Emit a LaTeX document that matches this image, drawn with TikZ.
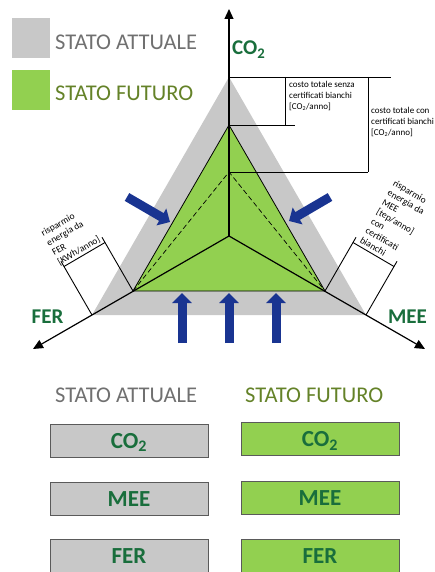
\documentclass[tikz,border=0pt]{standalone}
\usepackage{fontspec}
\setmainfont{Carlito}
\usetikzlibrary{arrows.meta}
\definecolor{grayfill}{RGB}{200,200,200}
\definecolor{greenfill}{RGB}{146,208,80}
\definecolor{bluearr}{RGB}{25,52,145}
\definecolor{labgreen}{RGB}{25,110,60}
\definecolor{titlegray}{RGB}{112,112,112}
\definecolor{titlegreen}{RGB}{100,130,40}
\definecolor{boxborder}{RGB}{90,90,90}
\tikzset{
  axisline/.style={line width=1.2pt, -{Triangle[width=9pt,length=10pt]}},
  dimline/.style={line width=0.9pt},
  dimtext/.style={font=\fontsize{9}{11}\selectfont, align=left, inner sep=0pt},
  rottext/.style={font=\fontsize{9.5}{11}\selectfont, align=left, inner sep=1.5pt},
  bluearrow/.style={draw=bluearr, line width=9pt, -{Triangle[width=19pt,length=10pt]}},
  axlab/.style={font=\fontsize{21}{24}\selectfont\bfseries, text=labgreen, inner sep=0pt},
  titletext/.style={font=\fontsize{22.5}{26}\selectfont, inner sep=0pt},
  legsq/.style={minimum width=38pt, minimum height=40pt, inner sep=0pt, draw=none},
  statebox/.style={draw=boxborder, line width=0.8pt, minimum width=158pt, minimum height=33pt,
    inner sep=0pt, text height=15pt, text depth=0pt, text=labgreen,
    font=\fontsize{23}{26}\selectfont\bfseries},
}
\begin{document}
\begin{tikzpicture}[x=1pt,y=-1pt]
\useasboundingbox (0,0) rectangle (435,572);
% key points
\coordinate (C) at (229,236);
\coordinate (GL) at (92,315);
\coordinate (GR) at (366,315);
\coordinate (GT) at (229,77);
\coordinate (VL) at (133,291);
\coordinate (VR) at (325,291);
\coordinate (VT) at (229,125);
\coordinate (DT) at (229,172);
\coordinate (TCO) at (229,9);
\coordinate (TFER) at (33,349);
\coordinate (TMEE) at (425,349);
% triangles
\fill[grayfill] (GL) -- (GR) -- (GT) -- cycle;
\filldraw[fill=greenfill, draw=black, line width=0.8pt] (VL) -- (VR) -- (VT) -- cycle;
\draw[dashed, line width=0.7pt, dash pattern=on 5pt off 3pt] (VL) -- (DT) -- (VR);
% axes
\draw[axisline] (C) -- (TCO);
\draw[axisline] (C) -- (TFER);
\draw[axisline] (C) -- (TMEE);
% top dimension
\coordinate (TopEnd) at (391,77);
\coordinate (V1t) at (285,77);
\coordinate (V1b) at (285,125);
\coordinate (H1e) at (295,125);
\coordinate (V2t) at (368,77);
\coordinate (V2b) at (368,172);
\draw[dimline] (GT) -- (TopEnd);
\draw[dimline] (V1t) -- (V1b);
\draw[dimline] (VT) -- (H1e);
\draw[dimline] (V2t) -- (V2b);
\draw[dimline] (DT) -- (V2b);
\node[dimtext, anchor=north west] (t1) at (289,81) {costo totale senza\\certificati bianchi\\{[CO\textsubscript{2}/anno]}};
\node[dimtext, anchor=north west] (t2) at (371,107) {costo totale con\\certificati bianchi\\{[CO\textsubscript{2}/anno]}};
% left dimension (FER)
\coordinate (LG1) at (61,261.3);
\coordinate (LG2) at (64,266.5);
\coordinate (LV1) at (102,237.3);
\coordinate (LV2) at (105,242.5);
\draw[dimline] (GL) -- (LG1);
\draw[dimline] (VL) -- (LV1);
\draw[dimline] (LG2) -- (LV2);
\node[rottext, rotate=30, anchor=south west] (tl) at (60,268.5) {risparmio\\energia da\\FER\\{[KWh/anno]}};
% right dimension (MEE)
\coordinate (RV1) at (356,237.3);
\coordinate (RV2) at (353,242.5);
\coordinate (RG1) at (397,261.3);
\coordinate (RG2) at (394,266.5);
\draw[dimline] (VR) -- (RV1);
\draw[dimline] (GR) -- (RG1);
\draw[dimline] (RV2) -- (RG2);
\node[rottext, rotate=-30, anchor=south west] (tr) at (357,243) {risparmio\\energia da\\MEE\\{[tep/anno]}\\con\\certificati\\bianchi};
% blue arrows
\coordinate (A1s) at (127,197); \coordinate (A1e) at (170,222);
\coordinate (A2s) at (330,197); \coordinate (A2e) at (289,221);
\coordinate (A3s) at (182,343); \coordinate (A3e) at (182,293);
\coordinate (A4s) at (229,343); \coordinate (A4e) at (229,293);
\coordinate (A5s) at (276,343); \coordinate (A5e) at (276,293);
\draw[bluearrow] (A1s) -- (A1e);
\draw[bluearrow] (A2s) -- (A2e);
\draw[bluearrow] (A3s) -- (A3e);
\draw[bluearrow] (A4s) -- (A4e);
\draw[bluearrow] (A5s) -- (A5e);
% axis labels
\node[axlab, anchor=base west] (lco2) at (232,55) {CO\textsubscript{2}};
\node[axlab, anchor=base] (lfer) at (47.5,323) {FER};
\node[axlab, anchor=base] (lmee) at (407.5,323) {MEE};
% legend
\node[legsq, fill=grayfill] (sq1) at (31,38.5) {};
\node[legsq, fill=greenfill] (sq2) at (31,90.5) {};
\node[titletext, text=titlegray, anchor=base west] (lt1) at (55,50) {STATO ATTUALE};
\node[titletext, text=titlegreen, anchor=base west] (lt2) at (55,100.5) {STATO FUTURO};
% bottom section
\node[titletext, text=titlegray, anchor=base west] (bt1) at (55,402) {STATO ATTUALE};
\node[titletext, text=titlegreen, anchor=base west] (bt2) at (245,402) {STATO FUTURO};
\node[statebox, fill=grayfill] (a1) at (129,440.5) {CO\textsubscript{2}};
\node[statebox, fill=grayfill] (a2) at (129,498.5) {MEE};
\node[statebox, fill=grayfill] (a3) at (129,556) {FER};
\node[statebox, fill=greenfill] (f1) at (320,439) {CO\textsubscript{2}};
\node[statebox, fill=greenfill] (f2) at (320,497.5) {MEE};
\node[statebox, fill=greenfill] (f3) at (320,556) {FER};
\end{tikzpicture}
\end{document}
